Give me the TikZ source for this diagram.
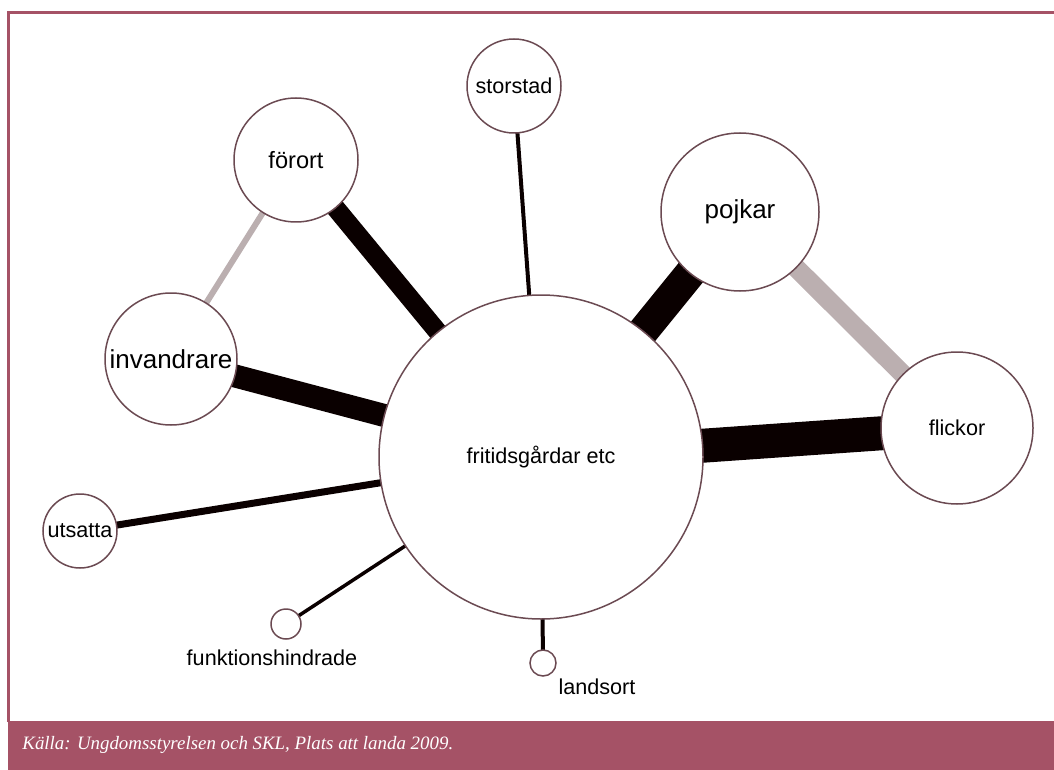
\documentclass[tikz,border=0pt]{standalone}
\usepackage{fontspec}
\setmainfont{Liberation Sans}
\newfontfamily\footfont{Liberation Serif}
\usetikzlibrary{backgrounds}
\definecolor{framecol}{HTML}{A55266}
\definecolor{ringcol}{HTML}{6B4A52}
\definecolor{barcol}{HTML}{0A0000}
\definecolor{graybarcol}{HTML}{BBAFB0}
\begin{document}
\begin{tikzpicture}[x=0.5pt,y=-0.5pt,
  bubble/.style={circle, draw=ringcol, line width=0.75pt, fill=white, inner sep=0pt,
    font=\fontsize{10.8}{12}\selectfont},
  bigtext/.style={font=\fontsize{13}{15}\selectfont},
  link/.style={draw=barcol, line cap=butt},
  glink/.style={draw=graybarcol, line cap=butt},
  lbl/.style={font=\fontsize{10.8}{12}\selectfont, inner sep=0pt},
  foot/.style={font=\footfont\itshape\fontsize{9.45}{11}\selectfont, text=white, inner sep=0pt, anchor=west}]
\useasboundingbox (0,0) rectangle (1054,770);
% frame
\draw[framecol, line width=1.5pt] (8.5,722) -- (8.5,13) -- (1054,13);
\fill[framecol] (8,721) rectangle (1054,770);
\node[foot] (src) at (22,745) {Källa: Ungdomsstyrelsen och SKL, Plats att landa 2009.};
% nodes
\node[bubble, minimum size=162pt] (fr) at (541,457) {fritidsgårdar etc};
\node[bubble, minimum size=47pt] (st) at (514,86) {storstad};
\node[bubble, minimum size=62pt, font=\fontsize{11.8}{13}\selectfont] (fo) at (296,160) {förort};
\node[bubble, minimum size=79pt, bigtext] (po) at (740,212) {pojkar};
\node[bubble, minimum size=66pt, bigtext] (in) at (171,359) {invandrare};
\node[bubble, minimum size=76pt] (fl) at (957,428) {flickor};
\node[bubble, minimum size=37pt] (ut) at (80,531) {utsatta};
\node[bubble, minimum size=15pt] (fu) at (286,624) {};
\node[bubble, minimum size=13pt] (la) at (543,663) {};
\node[lbl] (fulbl) at (272,658) {funktionshindrade};
\node[lbl] (lalbl) at (597,687) {landsort};
% connectors
\begin{pgfonlayer}{background}
\draw[link, line width=9.5pt] (fo.center) -- (fr.center);
\draw[glink, line width=3pt] (fo.center) -- (in.center);
\draw[link, line width=11.5pt] (in.center) -- (fr.center);
\draw[link, line width=2pt] (st.center) -- (fr.center);
\draw[link, line width=15.5pt] (po.center) -- (fr.center);
\draw[glink, line width=9.5pt] (po.center) -- (fl.center);
\draw[link, line width=17pt] (fl.center) -- (fr.center);
\draw[link, line width=3.5pt] (ut.center) -- (fr.center);
\draw[link, line width=1.75pt] (fu.center) -- (fr.center);
\draw[link, line width=2pt] (la.center) -- (fr.center);
\end{pgfonlayer}
\end{tikzpicture}
\end{document}
